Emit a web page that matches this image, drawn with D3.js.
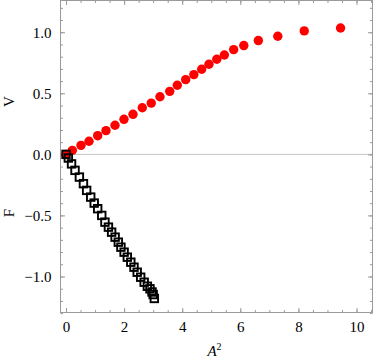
<!DOCTYPE html>
<html>
<head>
<meta charset="utf-8">
<script src="https://cdn.jsdelivr.net/npm/d3@7"></script>
<style>
  body { margin: 0; background: #fff; }
  svg { display: block; }
  .tick text { font-family: "Liberation Serif", serif; font-size: 15px; fill: #000; }
  .tick line { stroke: #9a9a9a; }
</style>
</head>
<body>
<div id="chart"></div>
<script>
// V series (red dots): A^2 vs V
const vA2 = [0, 0.217, 0.516, 0.791, 1.09, 1.376, 1.686, 1.995, 2.305, 2.625, 2.934, 3.234,
  3.57, 3.83, 4.12, 4.40, 4.67, 4.92, 5.19, 5.45, 5.77, 6.12, 6.62, 7.29, 8.20, 9.45]
const vVal = [0, 0.033, 0.074, 0.107, 0.153, 0.194, 0.238, 0.287, 0.328, 0.382, 0.420, 0.472,
  0.516, 0.566, 0.612, 0.653, 0.697, 0.738, 0.779, 0.814, 0.858, 0.891, 0.932, 0.967, 1.011, 1.035]

// F series (open squares): A^2 vs F
const fA2 = [0, 0.08, 0.19, 0.31, 0.46, 0.60, 0.71, 0.85, 0.97, 1.09, 1.23, 1.34, 1.46, 1.57,
  1.69, 1.80, 1.89, 2.00, 2.11, 2.23, 2.34, 2.45, 2.57, 2.69, 2.80, 2.89, 2.96, 3.00, 3.04]
const fVal = [0, -0.03, -0.078, -0.131, -0.186, -0.240, -0.295, -0.350, -0.399, -0.445, -0.500,
  -0.555, -0.596, -0.637, -0.678, -0.719, -0.760, -0.801, -0.842, -0.883, -0.924, -0.965,
  -1.006, -1.047, -1.080, -1.101, -1.127, -1.148, -1.18]

const xTicks = [0, 2, 4, 6, 8, 10]
const yTicks = [-1, -0.5, 0, 0.5, 1]
const xMinor = d3.range(0, 10.6, 0.5)
const yMinor = d3.range(-13, 13).map(function (i) { return i / 10 })

let W = 374
let H = 361
let pLeft = 60.5, pRight = 372.5, pTop = 0.5, pBottom = 312.5

let x = d3.scaleLinear().domain([-0.19, 10.55]).range([pLeft, pRight])
let y = d3.scaleLinear().domain([-1.295, 1.26]).range([pBottom, pTop])

let svg = d3.select('#chart').append('svg')
    .attr('width', W)
    .attr('height', H)

// zero gridline
svg.append('line')
    .attr('x1', pLeft).attr('x2', pRight)
    .attr('y1', y(0)).attr('y2', y(0))
    .attr('stroke', '#c4c4c4')
    .attr('stroke-width', 1)

function addAxis (gen, tx, ty, ticks, size, labels) {
    let g = svg.append('g')
        .attr('transform', 'translate(' + tx + ',' + ty + ')')
        .call(gen.tickValues(ticks).tickSizeInner(-size).tickSizeOuter(0)
            .tickPadding(labels ? 9 : 0)
            .tickFormat(labels ? labels : ''))
    g.select('.domain').remove()
    return g
}

let fmtY = function (d) { return d3.format('.1f')(d) }
let fmtX = function (d) { return d3.format('d')(d) }

// minor ticks on all four sides
addAxis(d3.axisLeft(y), pLeft, 0, yMinor, 2.5, null)
addAxis(d3.axisRight(y), pRight, 0, yMinor, 2.5, null)
addAxis(d3.axisBottom(x), 0, pBottom, xMinor, 2.5, null)
addAxis(d3.axisTop(x), 0, pTop, xMinor, 2.5, null)
// major ticks
addAxis(d3.axisLeft(y), pLeft, 0, yTicks, 4.5, fmtY)
addAxis(d3.axisRight(y), pRight, 0, yTicks, 4.5, null)
addAxis(d3.axisBottom(x), 0, pBottom, xTicks, 4.5, fmtX)
addAxis(d3.axisTop(x), 0, pTop, xTicks, 4.5, null)

// frame
svg.append('rect')
    .attr('x', pLeft).attr('y', pTop)
    .attr('width', pRight - pLeft).attr('height', pBottom - pTop)
    .attr('fill', 'none')
    .attr('stroke', '#9a9a9a')
    .attr('stroke-width', 1)

// red dots
svg.append('g').selectAll('circle')
    .data(vA2)
    .enter().append('circle')
    .attr('cx', function (d) { return x(d) })
    .attr('cy', function (d, i) { return y(vVal[i]) })
    .attr('r', 4.7)
    .attr('fill', '#ff0000')

// open squares
let s = 7.5
svg.append('g').selectAll('rect')
    .data(fA2)
    .enter().append('rect')
    .attr('x', function (d) { return x(d) - s / 2 })
    .attr('y', function (d, i) { return y(fVal[i]) - s / 2 })
    .attr('width', s).attr('height', s)
    .attr('fill', 'none')
    .attr('stroke', '#000')
    .attr('stroke-width', 1.9)

// axis titles
let font = '"Liberation Serif", serif'
svg.append('text')
    .attr('transform', 'translate(13.5,101.5) rotate(-90)')
    .attr('text-anchor', 'middle')
    .style('font-family', font).style('font-size', '15px')
    .text('V')
svg.append('text')
    .attr('transform', 'translate(13.5,213) rotate(-90)')
    .attr('text-anchor', 'middle')
    .style('font-family', font).style('font-size', '15px')
    .text('F')

let xt = svg.append('text')
    .attr('x', 214.5).attr('y', 356)
    .attr('text-anchor', 'middle')
    .style('font-family', font).style('font-size', '15px')
xt.append('tspan').style('font-style', 'italic').text('A')
xt.append('tspan').attr('dy', -6).style('font-size', '10px').text('2')
</script>
</body>
</html>
